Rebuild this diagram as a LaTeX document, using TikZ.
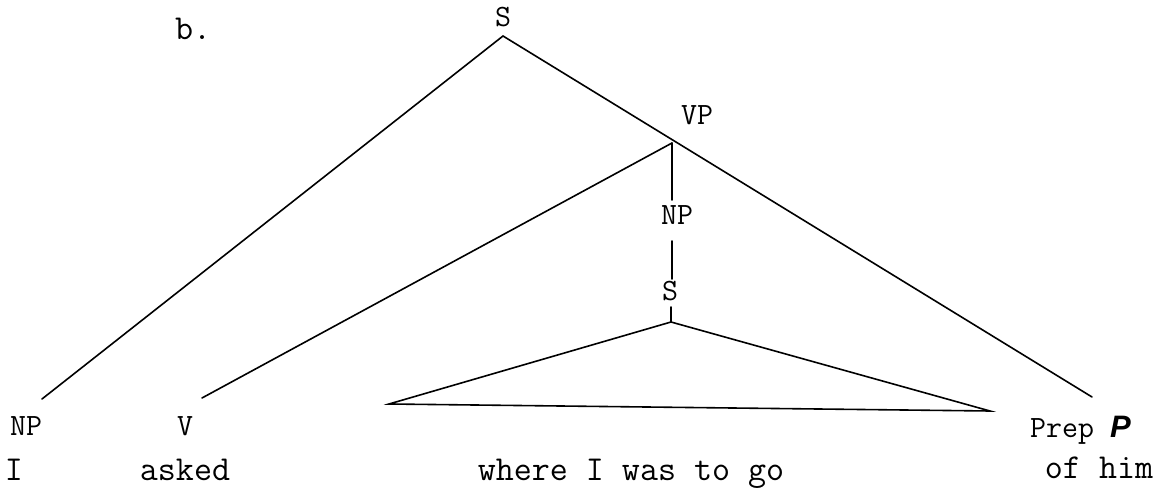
\documentclass[tikz,border=0pt]{standalone}
\usepackage{fontspec}
\newfontfamily\psans{Liberation Sans}
\begin{document}
\begin{tikzpicture}[x=1pt,y=-1pt,
  lbl/.style={font=\fontsize{31}{31}\selectfont\ttfamily, inner sep=0pt, anchor=base},
  wrd/.style={font=\fontsize{35}{35}\selectfont\ttfamily, inner sep=0pt, anchor=base},
  edge/.style={line width=1.6pt, line cap=round}]
\useasboundingbox (0,0) rectangle (1165,489);
% labels
\node[wrd, anchor=base west] (b) at (175,40) {b.};
\node[lbl] (Stop) at (503,27) {S};
\node[lbl] (VP) at (697,125) {VP};
\node[lbl] (NPm) at (677,225) {NP};
\node[lbl] (Sm) at (670,300) {S};
\node[lbl] (NPl) at (26,435) {NP};
\node[lbl] (V) at (185,435) {V};
\node[lbl, anchor=base west] (Prep) at (1030,437) {Prep \textbf{\textit{\psans P}}};
% words
\node[wrd] (wI) at (14,480) {I};
\node[wrd] (wasked) at (185,480) {asked};
\node[wrd] (wwhere) at (631,480) {where I was to go};
\node[wrd] (wof) at (1099,478) {of him};
% junction coordinates
\coordinate (s0) at (503,36);
\coordinate (nplend) at (42,399);
\coordinate (prepend) at (1092,397);
\coordinate (vp0) at (672,143);
\coordinate (vend) at (202,398);
\coordinate (npt) at (672,200);
\coordinate (npb) at (672,241);
\coordinate (sb) at (672,279);
\coordinate (st) at (671,307);
\coordinate (tri) at (671,322);
\coordinate (tl) at (389,404);
\coordinate (tr) at (990,411);
% edges
\draw[edge] (s0) -- (nplend);
\draw[edge] (s0) -- (prepend);
\draw[edge] (vp0) -- (vend);
\draw[edge] (vp0) -- (npt);
\draw[edge] (npb) -- (sb);
\draw[edge] (st) -- (tri);
\draw[edge, line join=miter] (tri) -- (tl) -- (tr) -- cycle;
\end{tikzpicture}
\end{document}
